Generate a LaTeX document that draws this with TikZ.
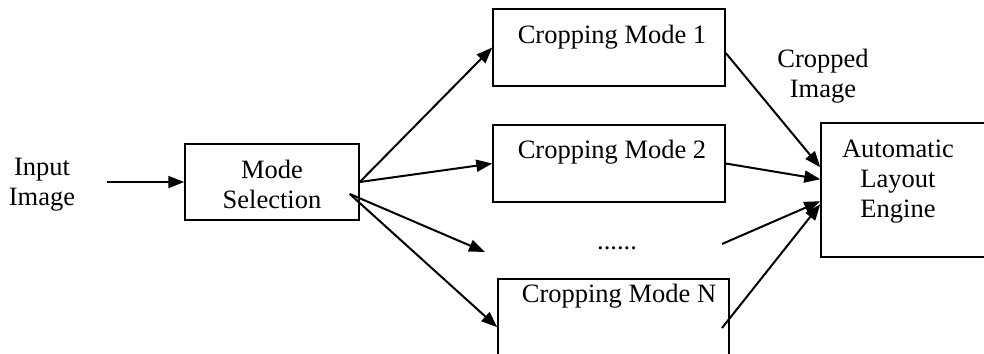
\documentclass[tikz,border=0pt]{standalone}
\usepackage{fontspec}
\setmainfont{Liberation Serif}
\usetikzlibrary{arrows.meta,calc}
\begin{document}
\begin{tikzpicture}[x=1pt,y=-1pt,
  boxstyle/.style={draw=black,line width=1.5pt,rectangle,inner sep=0pt},
  txt/.style={font=\fontsize{26.5}{30}\selectfont,align=center,inner sep=0pt,text=black},
  arr/.style={line width=2pt,-{Triangle[length=16pt,width=12pt]}},
  plain/.style={line width=2pt}]
\useasboundingbox (0,0) rectangle (984,353);
\clip (0,0) rectangle (984,353);
\fill[white] (0,0) rectangle (984,353);
% boxes
\node[boxstyle,minimum width=174pt,minimum height=76pt] (ms) at (272,182) {};
\node[boxstyle,minimum width=232pt,minimum height=77pt] (m1) at (609,47.5) {};
\node[boxstyle,minimum width=232pt,minimum height=77pt] (m2) at (609,163.5) {};
\node[boxstyle,minimum width=231pt,minimum height=120pt] (mn) at (613.5,339) {};
\node[boxstyle,minimum width=190pt,minimum height=134pt] (ale) at (916,190) {};
% texts
\node[txt] (inp) at (42,185) {Input\\Image};
\node[txt] (mst) at (272,184) {Mode\\Selection};
\node[txt] (m1t) at (612,37) {Cropping Mode 1};
\node[txt] (m2t) at (612,152) {Cropping Mode 2};
\node[txt] (mnt) at (619,296) {Cropping Mode N};
\node[txt] (dots) at (617,248) {......};
\node[txt] (ci) at (823,76) {Cropped\\Image};
\node[txt] (alet) at (898,182) {Automatic\\Layout\\Engine};
% coordinates
\coordinate (inpE) at (107,182);
\coordinate (lowS) at ($(ms.east)+(-10,12)$);
\coordinate (dotsIn) at (485,252);
\coordinate (dotsOut) at (722,244);
\coordinate (m1out) at ($(m1.east)+(0,5.5)$);
\coordinate (mnin) at ($(mn.north west)+(0,49)$);
\coordinate (mnout) at (722,328);
% arrows
\draw[arr] (inpE) -- (ms.west);
\draw[arr] (ms.east) -- (m1.west);
\draw[arr] (ms.east) -- (m2.west);
\draw[arr] (lowS) -- (dotsIn);
\draw[arr] (lowS) -- (mnin);
\draw[arr] (m1out) -- ($(ale.north west)+(0,45)$);
\draw[arr] (m2.east) -- ($(ale.north west)+(0,57)$);
\draw[arr] (dotsOut) -- ($(ale.north west)+(0,79)$);
\draw[arr] (mnout) -- ($(ale.north west)+(0,82)$);
\end{tikzpicture}
\end{document}
